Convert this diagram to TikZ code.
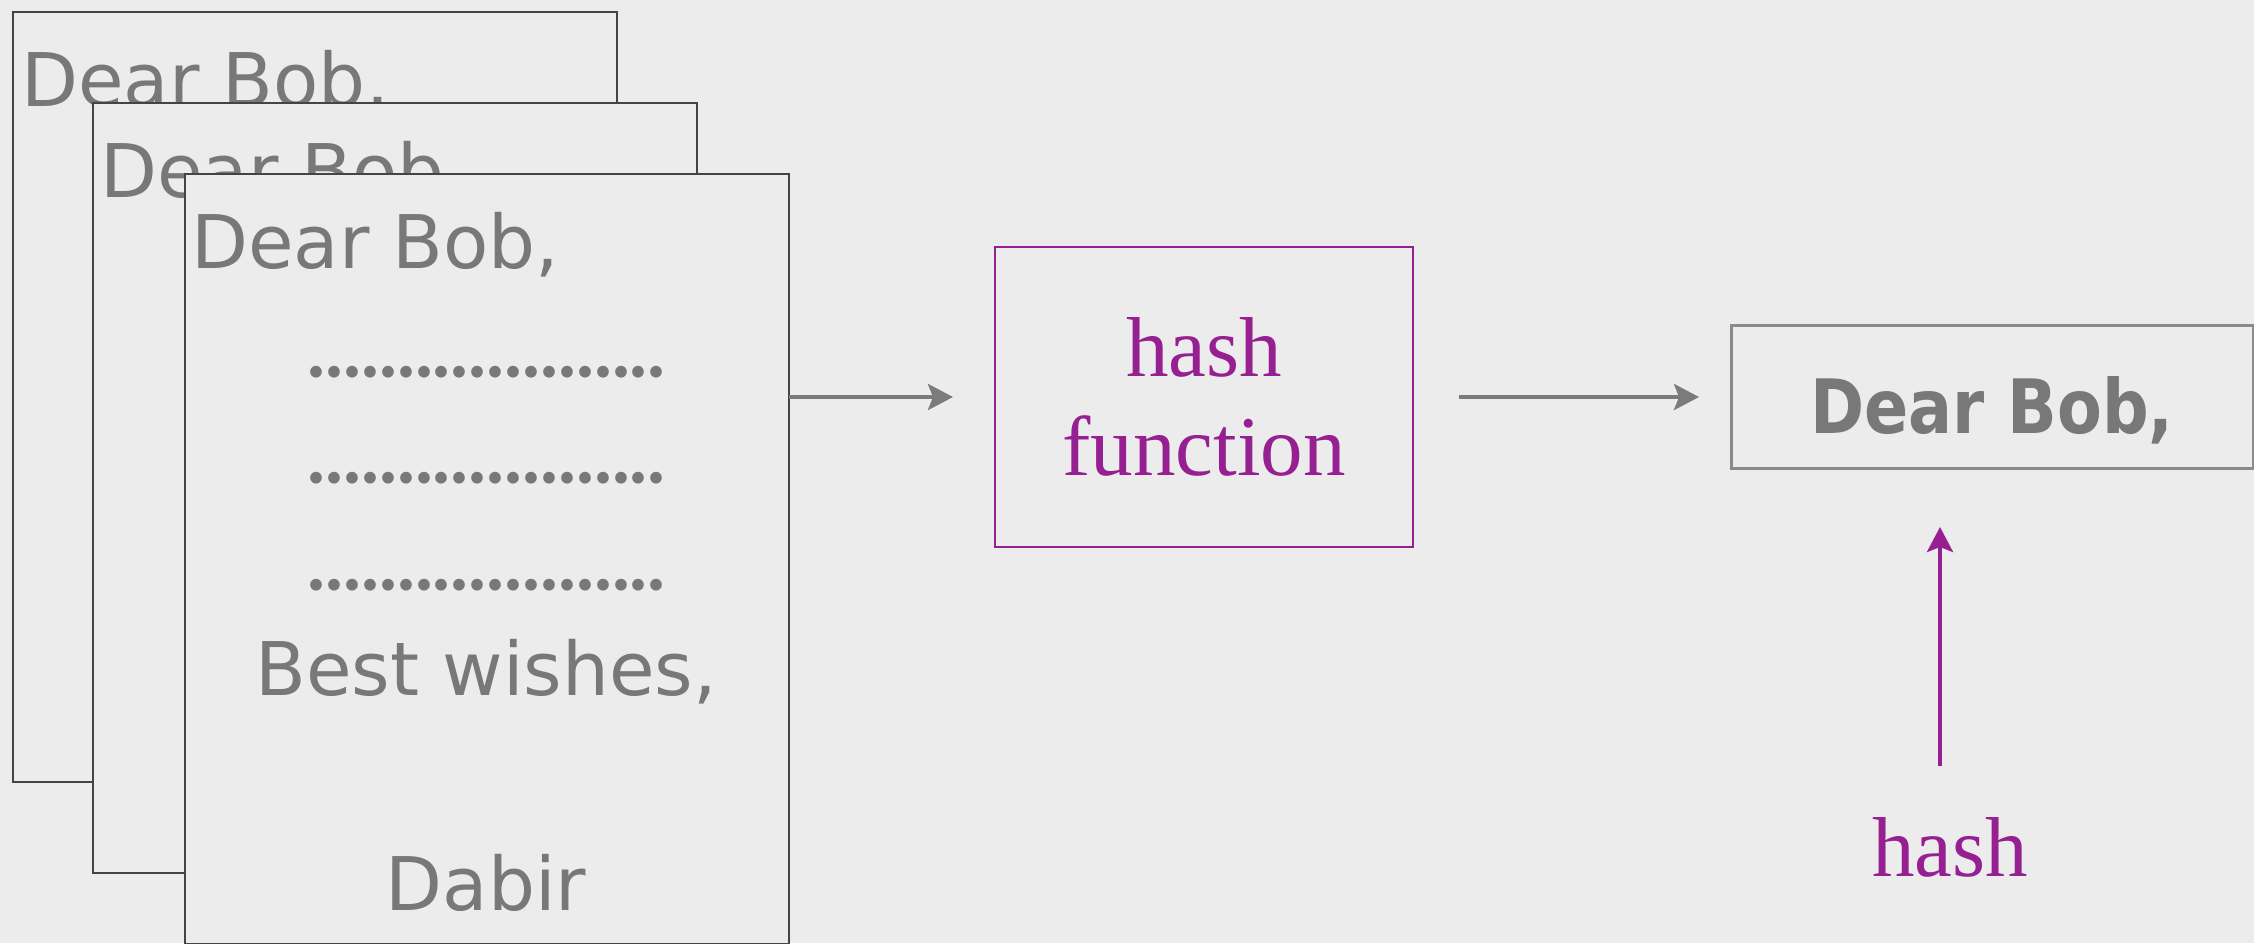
\documentclass[tikz,border=0pt]{standalone}
\usepackage{fontspec}
\usepackage{graphicx}
\setmainfont{Liberation Serif}
\newfontfamily\comicfont{DejaVu Sans}
\newfontfamily\dotfont{Poppins}
\usetikzlibrary{arrows.meta}
\definecolor{bg}{HTML}{ECECEC}
\definecolor{txtgray}{HTML}{787878}
\definecolor{boxline}{HTML}{444444}
\definecolor{purp}{RGB}{150,32,145}
\definecolor{outline}{HTML}{8A8A8A}
\definecolor{arrgray}{HTML}{7B7B7B}
\newcommand\onedot{\makebox[17.9pt]{.}}
\newcommand\dotrow{{\dotfont\fontsize{95}{99}\selectfont\onedot\onedot\onedot\onedot\onedot\onedot\onedot\onedot\onedot\onedot\onedot\onedot\onedot\onedot\onedot\onedot\onedot\onedot\onedot\onedot}}
\begin{document}
\begin{tikzpicture}[x=1pt,y=-1pt,
  letter/.style={draw=boxline, line width=2.5pt, fill=bg, minimum width=604pt, minimum height=770pt, anchor=north west, inner sep=0pt, outer sep=0pt},
  lettertext/.style={text=txtgray, font=\comicfont\fontsize{74}{80}\selectfont, inner sep=0pt, anchor=base west},
  fnbox/.style={draw=purp, line width=2pt, minimum width=418pt, minimum height=300pt, anchor=north west, align=center, text=purp, font=\fontsize{85}{99}\selectfont, inner sep=0pt, outer sep=0pt},
  outbox/.style={draw=outline, line width=3pt, minimum width=522pt, minimum height=143pt, anchor=north west, inner sep=0pt, outer sep=0pt},
  garrow/.style={draw=arrgray, line width=4pt, -{Stealth[length=25pt,width=26pt,inset=5pt]}},
  parrow/.style={draw=purp, line width=4pt, -{Stealth[length=25pt,width=26pt,inset=5pt]}}
]
\fill[bg] (0,0) rectangle (2254,943);
\useasboundingbox (0,0) rectangle (2254,943);

\node[letter] (box1) at (13,12) {};
\node[lettertext] (t1) at (21,106) {Dear Bob,};
\node[letter] (box2) at (93,103) {};
\node[lettertext] (t2) at (100,197) {Dear Bob,};
\node[letter] (box3) at (185,174) {};
\node[lettertext] (t3) at (191,268) {Dear Bob,};
\node[lettertext] (d1) at (307.5,377) {\dotrow};
\node[lettertext] (d2) at (307.5,483) {\dotrow};
\node[lettertext] (d3) at (307.5,590) {\dotrow};
\node[lettertext, anchor=base] (bw) at (486,695) {Best wishes,};
\node[lettertext, anchor=base] (db) at (486,910) {Dabir};

\node[fnbox] (hashfn) at (995,247) {hash\\function};

\node[outbox] (out) at (1731,325) {};
\node[text=txtgray, font=\comicfont\bfseries\fontsize{75}{80}\selectfont, inner sep=0pt, anchor=base] (outtext) at (1992,433) {\scalebox{0.87}[1]{Dear Bob,}};

\node[text=purp, font=\fontsize{85}{99}\selectfont, inner sep=0pt, anchor=base] (hashlbl) at (1950,876) {hash};

\draw[garrow, shorten >=42pt] (box3.east |- hashfn.west) -- (hashfn.west);
\draw[garrow, shorten <=46pt, shorten >=32pt] (hashfn.east) -- (out.west |- hashfn.east);
\draw[parrow, shorten <=51pt, shorten >=59pt] ([xshift=-10pt]hashlbl.north) -- ([xshift=-10pt]hashlbl.north |- out.south);
\end{tikzpicture}
\end{document}
